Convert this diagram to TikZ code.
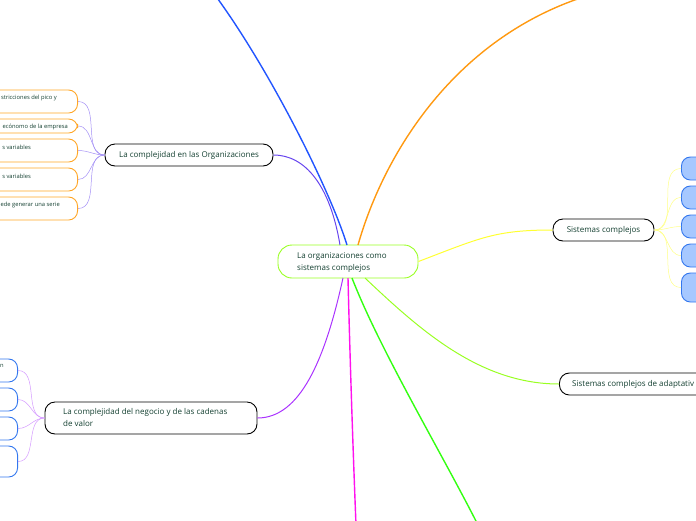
\documentclass[tikz,border=0pt]{standalone}
\usepackage{fontspec}
\setmainfont{Open Sans}
\definecolor{txtgreen}{HTML}{133F30}
\definecolor{orgorange}{HTML}{FFA626}
\definecolor{leafblue}{HTML}{3377EE}
\definecolor{leaffill}{HTML}{A6C8FF}
\definecolor{ramazul}{HTML}{2255FF}
\definecolor{ramnaranja}{HTML}{FF9911}
\definecolor{ramamarillo}{HTML}{FFFF33}
\definecolor{ramlima}{HTML}{99FF22}
\definecolor{ramverde}{HTML}{33FF11}
\definecolor{rammagenta}{HTML}{FF11EE}
\definecolor{rammorado}{HTML}{AA33FF}
\definecolor{ramindigo}{HTML}{6644EE}
\begin{document}
\begin{tikzpicture}[x=1pt,y=-1pt,
    topic/.style={draw=black,line width=0.9pt,rounded corners=10pt,inner sep=0pt,
        text=txtgreen,font=\fontsize{8}{10}\selectfont},
    central/.style={draw=ramlima,line width=0.9pt,rounded corners=14pt,inner sep=0pt},
    orgleaf/.style={draw=orgorange,line width=0.9pt,rounded corners=9pt,inner sep=0pt,
        minimum width=140pt},
    negleaf/.style={draw=leafblue,line width=0.9pt,rounded corners=9pt,inner sep=0pt,
        minimum width=140pt},
    sysleaf/.style={draw=leafblue,fill=leaffill,line width=0.9pt,rounded corners=9pt,
        inner sep=0pt,minimum width=140pt},
    leaftext/.style={text=txtgreen,inner sep=0pt,font=\fontsize{5.8}{7}\selectfont},
    branch/.style={line width=1.4pt},
    twig/.style={line width=0.5pt}]
\useasboundingbox (0,0) rectangle (696,520);

% centro
\node[central,minimum width=140pt,minimum height=33pt] (centro) at (348,261.5) {};
\node[text=txtgreen,font=\fontsize{8}{12}\selectfont,align=left,anchor=north west,inner sep=0pt]
    (centrotxt) at (297,252.5) {La organizaciones como\\sistemas complejos};

% temas
\node[topic,minimum width=168pt,minimum height=22pt] (org) at (189,155)
    {La complejidad en las Organizaciones};
\node[topic,minimum width=212pt,minimum height=32pt] (neg) at (151,418) {};
\node[text=txtgreen,font=\fontsize{8}{12}\selectfont,align=left,anchor=north west,inner sep=0pt]
    (negtxt) at (63,408.5) {La complejidad del negocio y de las cadenas\\de valor};
\node[topic,minimum width=101pt,minimum height=22pt] (sis) at (603.5,230) {Sistemas complejos};
\node[topic,minimum width=160pt,minimum height=22pt,anchor=west] (ada) at (559,384) {};
\node[text=txtgreen,font=\fontsize{8}{10}\selectfont,anchor=west,inner sep=0pt]
    (adatxt) at (572,384) {Sistemas complejos de adaptativ};

% puntos de salida
\coordinate (cA) at (340,245);
\coordinate (cB) at (347,245);
\coordinate (cC) at (358,245);
\coordinate (cD) at (343,278);
\coordinate (cE) at (348,278);
\coordinate (cF) at (352,278);
\coordinate (cG) at (365,278);
\coordinate (finA) at (215,-5);
\coordinate (finC) at (600,-8);
\coordinate (finE) at (356,525);
\coordinate (finF) at (478,525);

% ramas
\draw[branch,color=ramazul] (cB) .. controls (330,190) and (270,70) .. (finA);
\draw[branch,color=ramnaranja] (cC) .. controls (385,150) and (460,30) .. (finC);
\draw[line width=1pt,color=ramamarillo] (centro.east) .. controls (480,238) and (495,230) .. (sis.west);
\draw[line width=1pt,color=ramlima] (cG) .. controls (420,330) and (480,384) .. (ada.west);
\draw[branch,color=ramverde] (cF) .. controls (380,350) and (440,450) .. (finF);
\draw[branch,color=rammagenta] (cE) .. controls (350,360) and (353,450) .. (finE);
\draw[line width=1pt,color=rammorado] (cD) .. controls (325,360) and (300,418) .. (neg.east);
\draw[line width=1pt,color=ramindigo] (cA) .. controls (330,185) and (305,155) .. (org.east);

% hojas de Organizaciones
\node[orgleaf,minimum height=23pt,anchor=east] (o1) at (78,101.5) {};
\node[orgleaf,minimum height=14pt,anchor=east] (o2) at (78,126) {};
\node[orgleaf,minimum height=23pt,anchor=east] (o3) at (78,150.5) {};
\node[orgleaf,minimum height=23pt,anchor=east] (o4) at (78,179.5) {};
\node[orgleaf,minimum height=23pt,anchor=east] (o5) at (78,208.5) {};
\node[leaftext,anchor=east] (t1) at (57,98) {stricciones del pico y};
\node[leaftext,anchor=east] (t2) at (68,127) {ecónomo de la empresa};
\node[leaftext,anchor=east] (t3) at (31,147) {s variables};
\node[leaftext,anchor=east] (t4) at (31,176) {s variables};
\node[leaftext,anchor=east] (t5) at (60,205) {ede generar una serie};
\foreach \n in {o1,o2,o3,o4,o5}
  \draw[twig,color=ramindigo!60!white] (org.west) to[out=180,in=0] (\n.east);

% hojas del negocio
\node[negleaf,minimum height=23pt,anchor=east] (n1) at (18,370.5) {};
\node[negleaf,minimum height=23pt,anchor=east] (n2) at (18,399.5) {};
\node[negleaf,minimum height=23pt,anchor=east] (n3) at (18,428.5) {};
\node[negleaf,minimum height=31pt,anchor=east] (n4) at (18,461.5) {};
\node[leaftext,anchor=east] (tn1) at (4,366) {n};
\foreach \n in {n1,n2,n3,n4}
  \draw[twig,color=rammorado!50!white] (neg.west) to[out=180,in=0] (\n.east);

% hojas de sistemas complejos
\node[sysleaf,minimum height=23pt,anchor=west] (s1) at (681,168.5) {};
\node[sysleaf,minimum height=23pt,anchor=west] (s2) at (681,197.5) {};
\node[sysleaf,minimum height=23pt,anchor=west] (s3) at (681,226.5) {};
\node[sysleaf,minimum height=23pt,anchor=west] (s4) at (681,255.5) {};
\node[sysleaf,minimum height=29pt,anchor=west] (s5) at (681,287.5) {};
\foreach \n in {s1,s2,s3,s4,s5}
  \draw[twig,color=ramamarillo!60!white] (sis.east) to[out=0,in=180] (\n.west);
\end{tikzpicture}
\end{document}
